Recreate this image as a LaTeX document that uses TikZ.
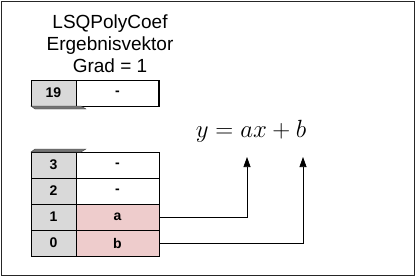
\documentclass[tikz,border=0pt]{standalone}
\usepackage[no-math]{fontspec}
\setmainfont{Liberation Sans}
\usetikzlibrary{positioning, arrows.meta}
\definecolor{cellgrey}{RGB}{217,217,217}
\definecolor{cellpink}{RGB}{238,204,204}
\newcommand{\cellfont}{\bfseries\fontsize{14}{16}\selectfont}

\begin{document}
\begin{tikzpicture}[x=1pt, y=-1pt,
    idxcell/.style={draw, fill=cellgrey, minimum width=45pt, minimum height=26pt, inner sep=0pt, outer sep=0pt, font=\cellfont},
    valcell/.style={idxcell, fill=white, minimum width=83pt},
    hitcell/.style={valcell, fill=cellpink},
    breakedge/.style={draw=black!75, fill=black!55, line width=0.4pt},
    conn/.style={-{Triangle[length=10pt, width=7pt]}, line width=0.7pt}]
  \useasboundingbox (0,0) rectangle (417,277);
  \draw[line width=0.8pt, black!85] (1,1) rectangle (414,275);

  % title
  \node[align=center, font=\fontsize{19}{22}\selectfont] (title) at (110,44) {LSQPolyCoef\\Ergebnisvektor\\Grad = 1};

  % top array element
  \node[idxcell, anchor=north west] (i19) at (31,80) {19};
  \node[valcell, right=0pt of i19] (v19) {-};
  \draw[line width=1.4pt] (v19.north east) -- (v19.south east);
  \draw[breakedge] (i19.south west) -- ++(4,3) -- ++(51,0) -- ++(-5,-3) -- cycle;

  % lower array elements
  \node[idxcell, anchor=north west] (i3) at (31,152) {3};
  \node[valcell, right=0pt of i3] (v3) {-};
  \node[idxcell, below=0pt of i3] (i2) {2};
  \node[valcell, right=0pt of i2] (v2) {-};
  \node[idxcell, below=0pt of i2] (i1) {1};
  \node[hitcell, right=0pt of i1] (v1) {a};
  \node[idxcell, below=0pt of i1] (i0) {0};
  \node[hitcell, right=0pt of i0] (v0) {b};
  \draw[breakedge] (i3.north west) -- ++(4,-3) -- ++(51,0) -- ++(-5,3) -- cycle;

  % equation
  \node[font=\fontsize{25}{25}\selectfont] (eq) at (251,131) {$y = ax + b$};
  \coordinate (ta) at (247,157);
  \coordinate (tb) at (303,157);

  \draw[conn] (v1.east) -| (ta);
  \draw[conn] (v0.east) -| (tb);
\end{tikzpicture}
\end{document}
